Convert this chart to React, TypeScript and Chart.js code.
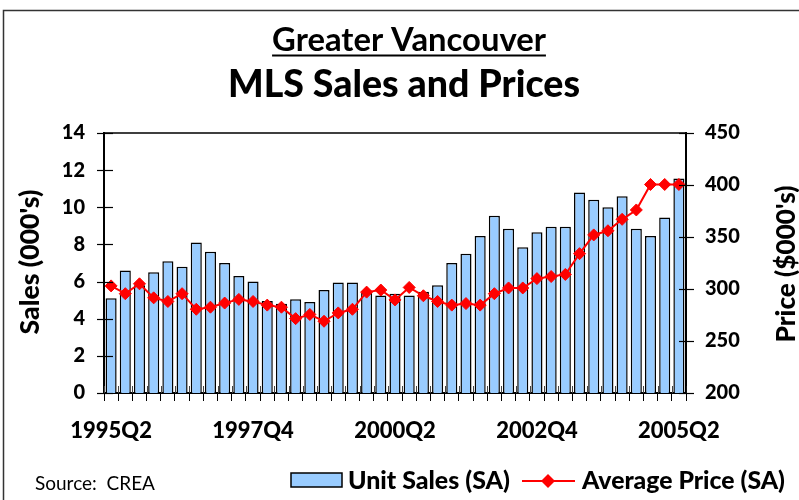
import { useEffect, useRef } from 'react';
import { Chart, registerables } from 'chart.js';

Chart.register(...registerables);

const categories = [
  '1995Q2', '1995Q3', '1995Q4', '1996Q1', '1996Q2', '1996Q3', '1996Q4', '1997Q1', '1997Q2', '1997Q3',
  '1997Q4', '1998Q1', '1998Q2', '1998Q3', '1998Q4', '1999Q1', '1999Q2', '1999Q3', '1999Q4', '2000Q1',
  '2000Q2', '2000Q3', '2000Q4', '2001Q1', '2001Q2', '2001Q3', '2001Q4', '2002Q1', '2002Q2', '2002Q3',
  '2002Q4', '2003Q1', '2003Q2', '2003Q3', '2003Q4', '2004Q1', '2004Q2', '2004Q3', '2004Q4', '2005Q1',
  '2005Q2',
];

const unitSales = [
  5.1, 6.6, 5.8, 6.5, 7.1, 6.8, 8.1, 7.6, 7.0, 6.3,
  6.0, 4.95, 4.8, 5.05, 4.9, 5.55, 5.95, 5.95, 5.4, 5.25,
  5.35, 5.25, 5.45, 5.8, 7.0, 7.5, 8.45, 9.55, 8.85, 7.85,
  8.65, 8.95, 8.95, 10.8, 10.4, 10.0, 10.6, 8.85, 8.45, 9.45,
  11.55,
];

const averagePrice = [
  303, 295.5, 305, 291.5, 288, 295.5, 280.5, 282.5, 286.5, 290,
  288, 284.5, 282.5, 271.5, 275.5, 269, 277, 280.5, 297, 299,
  289.5, 301.5, 293.5, 288, 284.5, 286, 284.5, 295.5, 301, 301,
  310, 312, 314, 334, 352, 356, 367, 376, 400.5, 400.5,
  400.5,
];

const xLabelEvery = 10;
const salesMin = 0;
const salesMax = 14;
const salesStep = 2;
const priceMin = 200;
const priceMax = 450;
const priceStep = 50;

const titleText = 'MLS Sales and Prices';
const subtitleText = 'Greater Vancouver';
const leftAxisTitle = "Sales (000's)";
const rightAxisTitle = "Price ($000's)";
const sourceText = 'Source:  CREA';

const FONT = 'Lato, "Open Sans", sans-serif';
const HEAVY = '900';
const BAR_FILL = '#99CCFF';
const LINE_RED = '#FF0000';

// draw text sized so that its width matches the reference's text width
function fitText(ctx: any, text: string, weight: string, width: number, x: number, y: number) {
  ctx.font = `${weight} 20px ${FONT}`;
  const w20 = ctx.measureText(text).width;
  const size = (20 * width) / w20;
  ctx.font = `${weight} ${size}px ${FONT}`;
  ctx.fillText(text, x, y);
  return ctx.measureText(text).width;
}

const decorPlugin = {
  id: 'decor',
  beforeDraw(chart: any) {
    const ctx = chart.ctx;
    ctx.save();
    ctx.fillStyle = '#fff';
    ctx.fillRect(0, 0, chart.width, chart.height);
    ctx.strokeStyle = '#333';
    ctx.lineWidth = 1.5;
    ctx.strokeRect(3.5, 10.5, chart.width + 20, chart.height + 20);
    ctx.restore();
  },
  beforeDatasetsDraw(chart: any) {
    const ctx = chart.ctx;
    const x = chart.scales.x;
    const area = chart.chartArea;
    ctx.save();
    ctx.strokeStyle = '#444';
    ctx.lineWidth = 1;
    const n = x.ticks.length;
    const step = x.getPixelForTick(1) - x.getPixelForTick(0);
    for (let i = 0; i <= n; i++) {
      const px = Math.round(x.getPixelForTick(0) + (i - 0.5) * step) + 0.5;
      ctx.beginPath();
      ctx.moveTo(px, area.bottom - 7);
      ctx.lineTo(px, area.bottom);
      ctx.stroke();
    }
    ctx.restore();
  },
  afterDraw(chart: any) {
    const ctx = chart.ctx;
    const area = chart.chartArea;
    const y = chart.scales.y;
    const y1 = chart.scales.y1;
    ctx.save();
    // plot frame
    ctx.strokeStyle = '#000';
    ctx.lineWidth = 1.5;
    ctx.beginPath();
    ctx.moveTo(area.left, area.top);
    ctx.lineTo(area.right, area.top);
    ctx.lineTo(area.right, area.bottom);
    ctx.stroke();
    // y ticks crossing the axes
    ctx.lineWidth = 1.2;
    y.ticks.forEach((t: any) => {
      const py = Math.round(y.getPixelForValue(t.value)) + 0.5;
      ctx.beginPath();
      ctx.moveTo(area.left - 7, py);
      ctx.lineTo(area.left + 9, py);
      ctx.stroke();
    });
    y1.ticks.forEach((t: any) => {
      const py = Math.round(y1.getPixelForValue(t.value)) + 0.5;
      ctx.beginPath();
      ctx.moveTo(area.right - 7, py);
      ctx.lineTo(area.right + 8, py);
      ctx.stroke();
    });
    // axis titles
    ctx.fillStyle = '#000';
    ctx.textAlign = 'center';
    ctx.textBaseline = 'middle';
    const midY = (area.top + area.bottom) / 2;
    ctx.save();
    ctx.translate(30, 262);
    ctx.rotate(-Math.PI / 2);
    fitText(ctx, leftAxisTitle, HEAVY, 145, 0, 0);
    ctx.restore();
    ctx.save();
    ctx.translate(787, 264);
    ctx.rotate(-Math.PI / 2);
    fitText(ctx, rightAxisTitle, HEAVY, 157, 0, 0);
    ctx.restore();
    // titles
    ctx.textAlign = 'center';
    ctx.textBaseline = 'alphabetic';
    const cx = 409;
    const w = fitText(ctx, subtitleText, 'bold', 274, cx, 51);
    ctx.lineWidth = 2;
    ctx.beginPath();
    ctx.moveTo(cx - w / 2, 55.5);
    ctx.lineTo(cx + w / 2, 55.5);
    ctx.stroke();
    fitText(ctx, titleText, HEAVY, 352, 404, 97);
    // source
    ctx.textAlign = 'left';
    ctx.textBaseline = 'middle';
    fitText(ctx, sourceText, 'normal', 120, 35, 484);
    // legend
    const barDs = chart.data.datasets[0];
    const lineDs = chart.data.datasets[1];
    ctx.fillStyle = barDs.backgroundColor;
    ctx.fillRect(291, 473, 51, 14);
    ctx.strokeStyle = '#000';
    ctx.lineWidth = 1.5;
    ctx.strokeRect(291, 473, 51, 14);
    ctx.fillStyle = '#000';
    fitText(ctx, barDs.label, HEAVY, 162, 348, 481);
    ctx.strokeStyle = lineDs.borderColor;
    ctx.lineWidth = 2;
    ctx.beginPath();
    ctx.moveTo(522, 481);
    ctx.lineTo(575, 481);
    ctx.stroke();
    ctx.fillStyle = lineDs.borderColor;
    ctx.beginPath();
    ctx.moveTo(548, 474);
    ctx.lineTo(555, 481);
    ctx.lineTo(548, 488);
    ctx.lineTo(541, 481);
    ctx.closePath();
    ctx.fill();
    ctx.fillStyle = '#000';
    fitText(ctx, lineDs.label, HEAVY, 203, 582, 481);
    ctx.restore();
  },
};

export default function App() {
  const canvasRef = useRef<HTMLCanvasElement | null>(null);

  useEffect(() => {
    if (!canvasRef.current) return;
    const chart = new Chart(canvasRef.current, {
      type: 'bar',
      data: {
        labels: categories,
        datasets: [
          {
            type: 'bar',
            label: 'Unit Sales (SA)',
            data: unitSales,
            yAxisID: 'y',
            backgroundColor: BAR_FILL,
            borderColor: '#000',
            borderWidth: 1.5,
            barPercentage: 0.78,
            categoryPercentage: 1,
            order: 2,
          },
          {
            type: 'line',
            label: 'Average Price (SA)',
            data: averagePrice,
            yAxisID: 'y1',
            borderColor: LINE_RED,
            backgroundColor: LINE_RED,
            borderWidth: 2,
            pointStyle: 'rectRot',
            pointRadius: 6,
            pointBorderWidth: 1,
            pointBackgroundColor: LINE_RED,
            pointBorderColor: LINE_RED,
            tension: 0,
            order: 1,
          },
        ] as any,
      },
      options: {
        animation: false,
        responsive: true,
        maintainAspectRatio: false,
        layout: { padding: { top: 133, bottom: 50, left: 0, right: 0 } },
        plugins: {
          legend: { display: false },
          tooltip: { enabled: false },
          title: { display: false },
        },
        scales: {
          x: {
            type: 'category',
            offset: true,
            grid: {
              display: true,
              offset: true,
              drawOnChartArea: false,
              drawTicks: true,
              tickLength: 8,
              color: '#000',
              lineWidth: 1,
            },
            border: { display: true, color: '#000', width: 2 },
            ticks: {
              autoSkip: false,
              maxRotation: 0,
              minRotation: 0,
              padding: 17,
              color: '#000',
              font: { family: FONT, weight: HEAVY, size: 22 },
              callback: (_v: any, i: number) => (i % xLabelEvery === 0 ? categories[i] : ''),
            },
            afterFit: (s: any) => {
              s.height = 57;
            },
          },
          y: {
            position: 'left',
            min: salesMin,
            max: salesMax,
            grid: { display: false, drawTicks: false, tickLength: 0 },
            border: { display: true, color: '#000', width: 2 },
            ticks: {
              stepSize: salesStep,
              padding: 19,
              color: '#000',
              font: { family: FONT, weight: HEAVY, size: 20 },
            },
            afterFit: (s: any) => {
              s.width = 104;
            },
          },
          y1: {
            position: 'right',
            min: priceMin,
            max: priceMax,
            grid: { display: false, drawTicks: false, tickLength: 0 },
            border: { display: true, color: '#000', width: 2 },
            ticks: {
              stepSize: priceStep,
              padding: 19,
              color: '#000',
              font: { family: FONT, weight: HEAVY, size: 20 },
            },
            afterFit: (s: any) => {
              s.width = 113;
            },
          },
        },
      } as any,
      plugins: [decorPlugin],
    });
    return () => chart.destroy();
  }, []);

  return (
    <div style={{ position: 'absolute', left: 0, top: 0, width: 799, height: 500, background: '#fff' }}>
      <canvas ref={canvasRef} />
    </div>
  );
}
